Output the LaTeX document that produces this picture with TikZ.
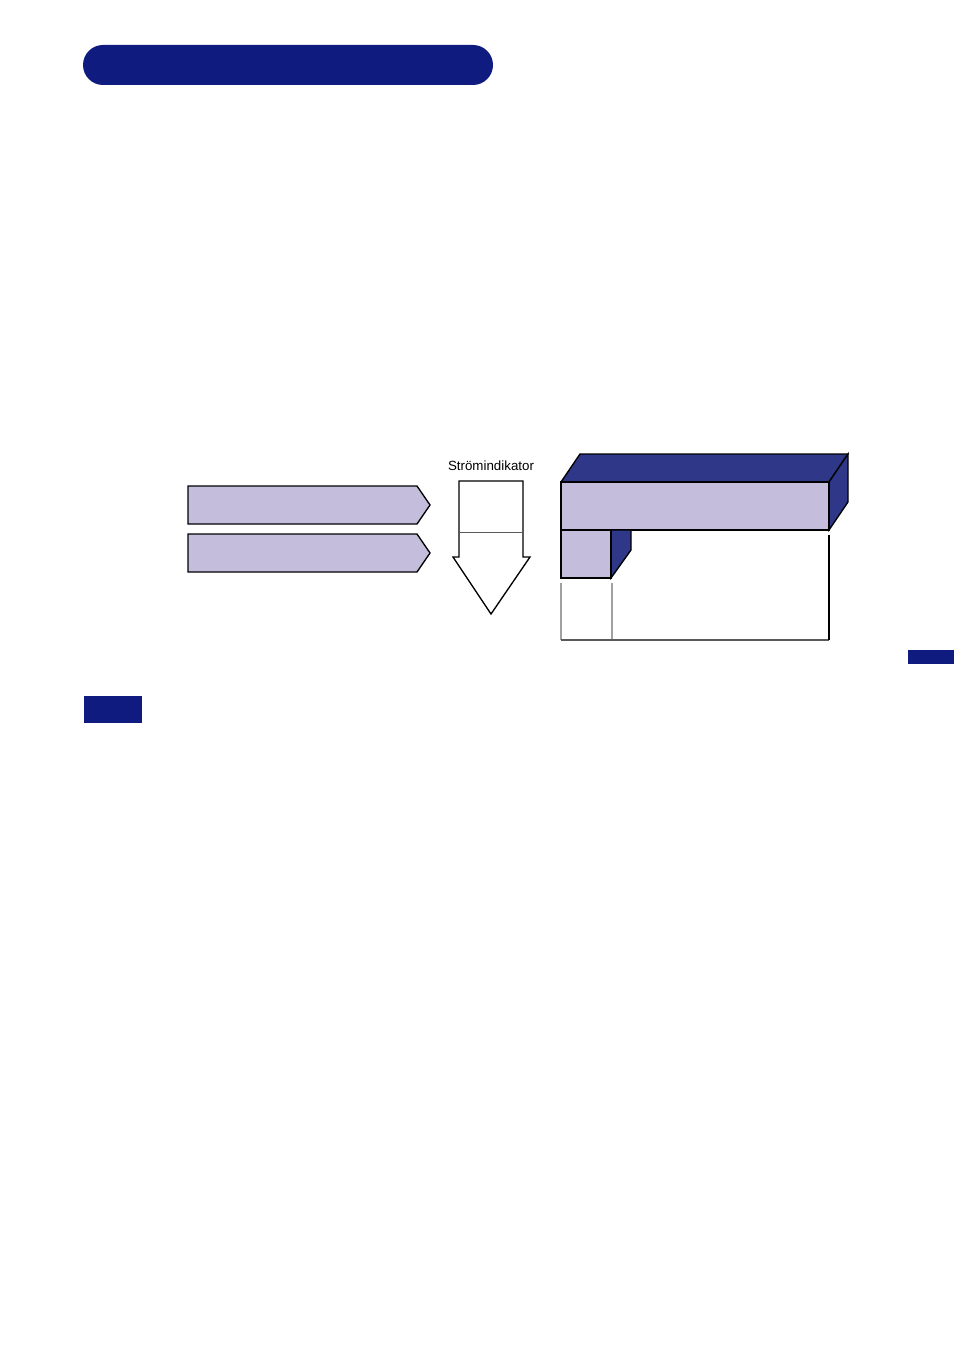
\documentclass[tikz,border=0pt]{standalone}
\usepackage{fontspec}
\setmainfont{Liberation Sans}
\definecolor{navy}{RGB}{16,27,128}
\definecolor{dkside}{RGB}{46,55,136}
\definecolor{lilac}{RGB}{196,190,220}
\definecolor{lgray}{RGB}{160,160,160}
\definecolor{mgray}{RGB}{90,90,90}
\tikzset{
  lilacshape/.style={fill=lilac,draw=black,line width=1pt,line join=miter},
  sideshape/.style={fill=dkside,draw=black,line width=1pt,line join=miter},
}
\begin{document}
\begin{tikzpicture}[x=0.75pt,y=-0.75pt]
\useasboundingbox (0,0) rectangle (954,1351);
% header pill
\fill[navy,rounded corners=15pt] (83,45) rectangle (493,85);
% small tabs
\fill[navy] (84,696) rectangle (142,723);
\fill[navy] (908,650) rectangle (954,664);
% left pentagon arrows
\draw[lilacshape] (188,486) -- (417,486) -- (430,505) -- (417,524) -- (188,524) -- cycle;
\draw[lilacshape] (188,534) -- (417,534) -- (430,553) -- (417,572) -- (188,572) -- cycle;
% power indicator arrow
\node[font=\fontsize{10pt}{12pt}\selectfont,anchor=base] (lbl) at (491,470) {Strömindikator};
\draw[fill=white,line width=1pt,line join=miter] (459,481) -- (523,481) -- (523,557) -- (530,557) -- (491,614) -- (453,557) -- (459,557) -- cycle;
\draw[mgray,line width=1pt] (459,532.5) -- (523,532.5);
% 3D bar
\draw[sideshape] (561,482) -- (580,454) -- (848,454) -- (829,482) -- cycle;
\draw[sideshape] (829,482) -- (848,454) -- (848,502) -- (829,530) -- cycle;
\draw[lilacshape] (561,482) rectangle (829,530);
% small 3D block
\draw[sideshape] (611,530) -- (631,530) -- (631,550) -- (611,578) -- cycle;
\draw[lilacshape] (561,530) rectangle (611,578);
% lower frame
\draw[lgray,line width=1pt] (561,583) -- (561,640);
\draw[lgray,line width=1pt] (612,583) -- (612,640);
\draw[mgray,line width=1pt] (561,640) -- (829,640);
\draw[black,line width=1pt] (829,535) -- (829,640);
\end{tikzpicture}
\end{document}
